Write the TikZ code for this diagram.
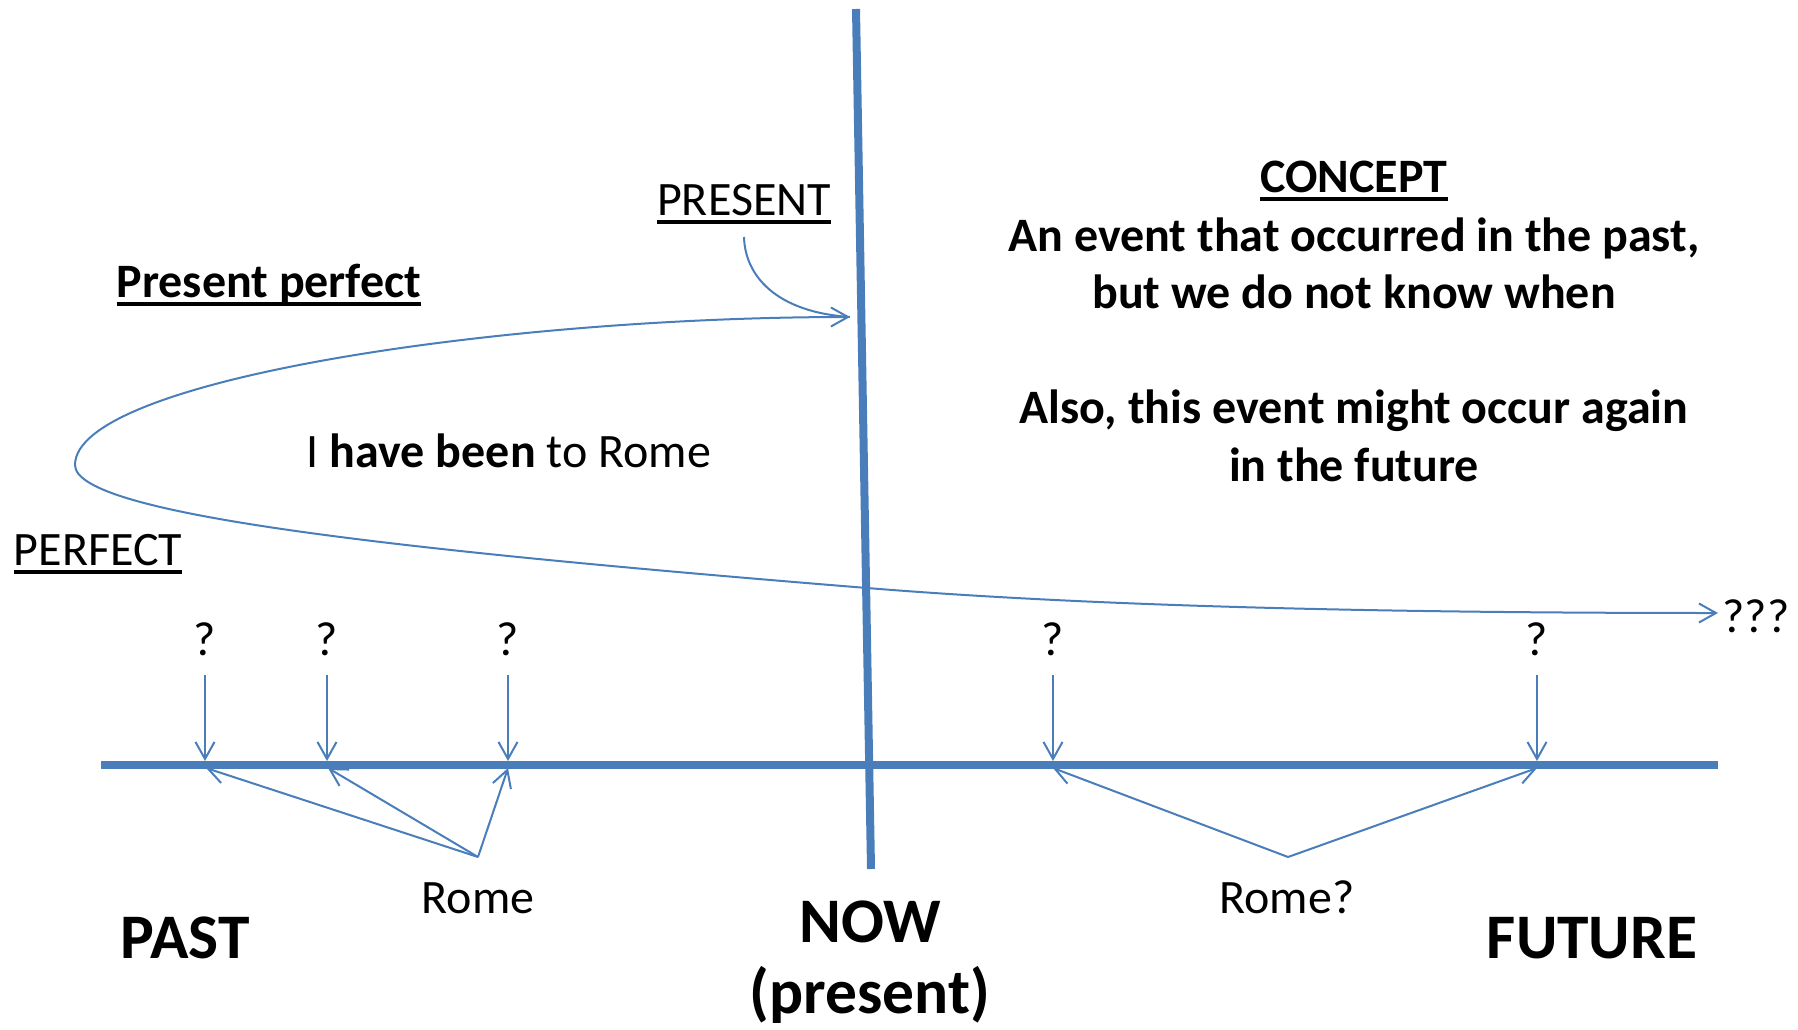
\documentclass[tikz,border=0pt]{standalone}
\usepackage{fontspec}
\setmainfont{Carlito}
\usetikzlibrary{arrows.meta}
\definecolor{tl}{RGB}{74,126,187}
\newcommand\myul[1]{\setbox0\hbox{#1}\rlap{\rule[-0.185em]{\wd0}{0.075em}}\box0}
\begin{document}
\begin{tikzpicture}[x=1pt,y=-1pt,
  >={Straight Barb[length=17pt,width=19pt]},
  axis/.style={draw=tl,line width=8pt},
  conn/.style={draw=tl,line width=2pt,->},
  thinline/.style={draw=tl,line width=2pt},
  mid/.style={font=\fontsize{48}{57}\selectfont,inner sep=0pt,anchor=base},
  big/.style={font=\fontsize{63.5}{74}\selectfont\bfseries,inner sep=0pt,anchor=base},
]
\useasboundingbox (0,0) rectangle (1798,1030);

% coordinates
\coordinate (vtop) at (856,9);
\coordinate (vbot) at (871,869);
\coordinate (tl0) at (101,764.5);
\coordinate (tl1) at (1718,764.5);
\coordinate (t1) at (205,761);
\coordinate (t2) at (327,761);
\coordinate (t3) at (508,761);
\coordinate (t4) at (1053,761);
\coordinate (t5) at (1537,761);
\coordinate (b1) at (206,768);
\coordinate (b2) at (328,768);
\coordinate (b3) at (508,768);
\coordinate (b4) at (1053,768);
\coordinate (b5) at (1537,768);
\coordinate (r1) at (478,857);
\coordinate (r2) at (1288,857);
\coordinate (c0) at (850,317);
\coordinate (c1) at (75,465);
\coordinate (c2) at (867,588);
\coordinate (c3) at (1718,613);

% texts
\node[mid] (present) at (744,215) {\myul{PRESENT}};
\node[mid] (pp) at (269,297) {\myul{\textbf{Present perfect}}};
\node[mid] (perfect) at (98,565) {\myul{PERFECT}};
\node[mid] (ihave) at (509,467) {I \textbf{have been} to Rome};
\node[mid] (concept) at (1354,192) {\myul{\textbf{CONCEPT}}};
\node[mid] (cl1) at (1354,251) {\textbf{An event that occurred in the past,}};
\node[mid] (cl2) at (1354,308) {\textbf{but we do not know when}};
\node[mid] (cl3) at (1354,423) {\textbf{Also, this event might occur again}};
\node[mid] (cl4) at (1354,481) {\textbf{in the future}};
\node[mid] (q1) at (205,655) {?};
\node[mid] (q2) at (327,655) {?};
\node[mid] (q3) at (508,655) {?};
\node[mid] (q4) at (1053,655) {?};
\node[mid] (q5) at (1537,655) {?};
\node[mid] (qqq) at (1756,632) {???};
\node[mid] (rome) at (478,913) {Rome};
\node[mid] (romeq) at (1287,913) {Rome?};
\node[big] (past) at (185,958) {PAST};
\node[big] (now) at (870,942) {NOW};
\node[big] (presentb) at (870,1013) {(present)};
\node[big] (future) at (1592,958) {FUTURE};

% axes
\draw[axis] (vtop) -- (vbot);
\draw[axis] (tl0) -- (tl1);

% question-mark arrows
\foreach \i in {1,...,5} \draw[conn] ([yshift=-20pt]q\i.base) -- (t\i);

% Rome arrows
\draw[conn] (r1) -- (b1);
\draw[conn] (r1) -- (b2);
\draw[conn] (r1) -- (b3);
\draw[conn] (r2) -- (b4);
\draw[conn] (r2) -- (b5);

% PRESENT pointer
\draw[thinline] ([yshift=-22pt]present.base) .. controls (745,275) and (775,312) .. (c0);

% present perfect loop
\draw[thinline,<->] (c0) .. controls (500,317) and (75,380) .. (c1)
  .. controls (75,515) and (400,550) .. (c2)
  .. controls (1100,607) and (1400,613) .. (c3);
\end{tikzpicture}
\end{document}
